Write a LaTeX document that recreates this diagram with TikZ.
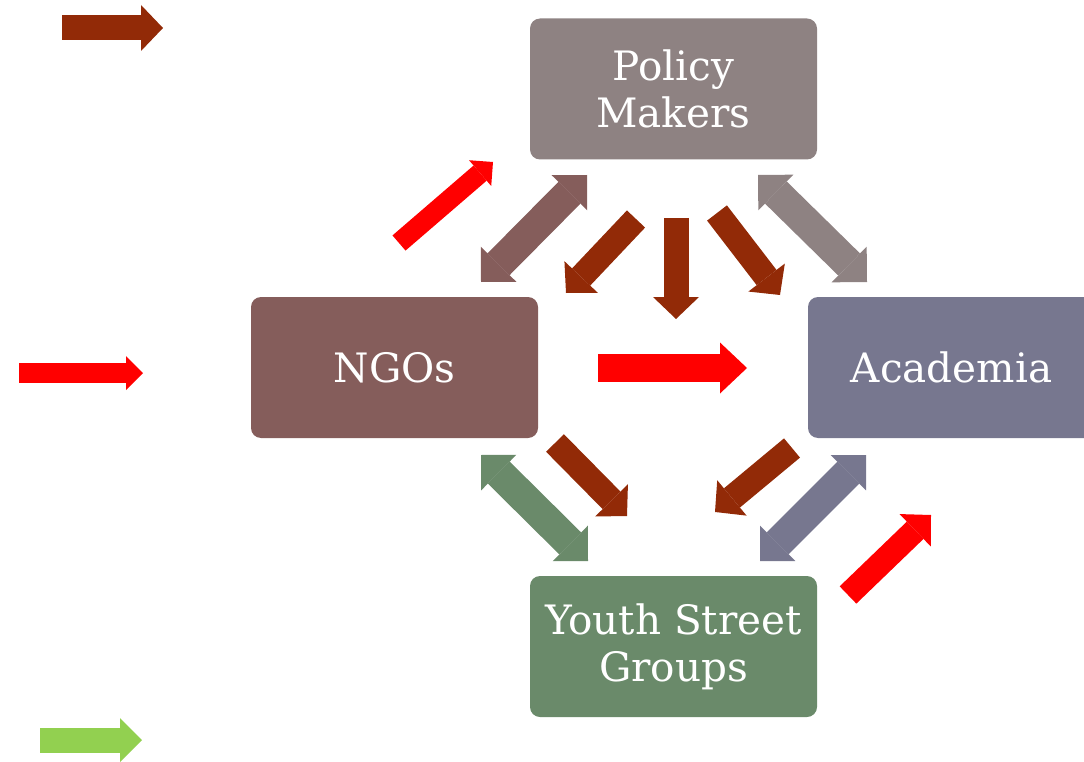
\documentclass[tikz,border=0pt]{standalone}
\usepackage{fontspec}
\setmainfont{DejaVu Serif}
\usetikzlibrary{arrows.meta}
\definecolor{pmcol}{HTML}{8E8282}
\definecolor{ngocol}{HTML}{855D5B}
\definecolor{accol}{HTML}{77778F}
\definecolor{ycol}{HTML}{6A8A6A}
\definecolor{darkred}{HTML}{922A07}
\definecolor{brightred}{HTML}{FF0000}
\definecolor{lgreen}{HTML}{92D050}
\begin{document}
\begin{tikzpicture}[x=1pt,y=-1pt,
  box/.style={rounded corners=10pt, minimum width=287pt, minimum height=141pt,
    text=white, font=\fontsize{40.5}{47}\selectfont, align=center, inner sep=0pt},
  darrow/.style={draw=darkred, line width=25pt,
    -{Triangle[length=22pt,width=46pt,line width=0pt]}},
  redsmall/.style={draw=brightred, line width=20pt,
    -{Triangle[length=17pt,width=34pt,line width=0pt]}},
  redmid/.style={draw=brightred, line width=24pt,
    -{Triangle[length=22pt,width=45pt,line width=0pt]}},
  redbig/.style={draw=brightred, line width=28pt,
    -{Triangle[length=27pt,width=51pt,line width=0pt]}},
  greenarrow/.style={draw=lgreen, line width=25pt,
    -{Triangle[length=22pt,width=44pt,line width=0pt]}},
  twoway/.style={draw=#1, line width=31pt,
    {Triangle[length=25pt,width=50pt,line width=0pt]}-{Triangle[length=25pt,width=50pt,line width=0pt]}}
]
\useasboundingbox (0,0) rectangle (1084,762);
\clip (0,0) rectangle (1084,762);

% boxes
\node[box, fill=pmcol]  (pm)  at (673.5,89)    {Policy\\Makers};
\node[box, fill=ngocol] (ngo) at (394.5,367.5) {NGOs};
\node[box, fill=accol]  (ac)  at (951.5,367.5) {Academia};
\node[box, fill=ycol]   (ysg) at (673.5,646.5) {Youth Street\\Groups};

% legend arrows
\coordinate (l1a) at (62,28);  \coordinate (l1b) at (163,28);
\coordinate (l2a) at (19,373); \coordinate (l2b) at (143,373);
\coordinate (l3a) at (40,740); \coordinate (l3b) at (142,740);
\draw[darrow] (l1a) -- (l1b);
\draw[redsmall] (l2a) -- (l2b);
\draw[greenarrow] (l3a) -- (l3b);

% two-way arrows
\coordinate (npA) at (481,282); \coordinate (npB) at (587,175);
\coordinate (paA) at (758,175); \coordinate (paB) at (867,282);
\coordinate (nyA) at (481,455); \coordinate (nyB) at (588,561);
\coordinate (ayA) at (866,455); \coordinate (ayB) at (760,561);
\draw[twoway=ngocol] (npA) -- (npB);
\draw[twoway=pmcol]  (paA) -- (paB);
\draw[twoway=ycol]   (nyA) -- (nyB);
\draw[twoway=accol]  (ayA) -- (ayB);

% dark red influence arrows
\coordinate (d1a) at (636,219); \coordinate (d1b) at (566,293);
\coordinate (d2a) at (676,218); \coordinate (d2b) at (676,319);
\coordinate (d3a) at (717,213); \coordinate (d3b) at (780,295);
\coordinate (d4a) at (555,443); \coordinate (d4b) at (627,516);
\coordinate (d5a) at (792,448); \coordinate (d5b) at (715,512);
\draw[darrow] (d1a) -- (d1b);
\draw[darrow] (d2a) -- (d2b);
\draw[darrow] (d3a) -- (d3b);
\draw[darrow] (d4a) -- (d4b);
\draw[darrow] (d5a) -- (d5b);

% red arrows
\coordinate (r1a) at (399,243); \coordinate (r1b) at (493,162);
\coordinate (r2a) at (598,368); \coordinate (r2b) at (747,368);
\coordinate (r3a) at (848,595); \coordinate (r3b) at (931,515);
\draw[redsmall] (r1a) -- (r1b);
\draw[redbig] (r2a) -- (r2b);
\draw[redmid] (r3a) -- (r3b);
\end{tikzpicture}
\end{document}
